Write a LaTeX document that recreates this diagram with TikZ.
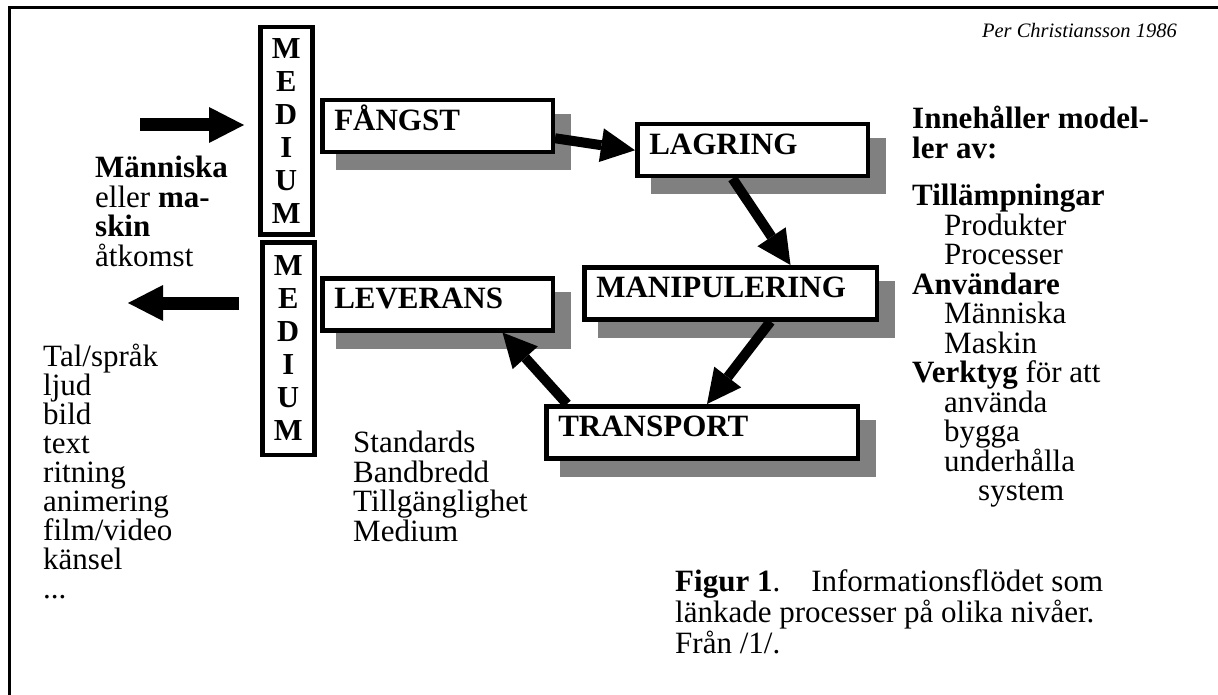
\documentclass[tikz,border=0pt]{standalone}
\usepackage{fontspec}
\setmainfont{Liberation Serif}
\usetikzlibrary{arrows.meta,shadows,calc}

\begin{document}
\begin{tikzpicture}[x=1pt,y=-1pt,
  box/.style={draw,line width=4.5pt,fill=white,anchor=north west,
    minimum height=52pt,inner xsep=12pt,align=left,text width=#1,
    text height=22pt,text depth=13.5pt,font=\fontsize{31}{31}\selectfont\bfseries,
    drop shadow={shadow xshift=16pt,shadow yshift=-16pt,fill=gray,draw=gray,
      line width=4.5pt,opacity=1}},
  medium/.style={draw,line width=4.5pt,fill=white,anchor=north west,
    minimum width=52pt,inner sep=0pt,align=center,
    font=\fontsize{30.5}{33}\selectfont\bfseries},
  flow/.style={line width=10pt,-{Triangle[length=34pt,width=34pt,line width=0pt]}},
  access/.style={line width=13pt,-{Triangle[length=35pt,width=36pt,line width=0pt]}},
  txt/.style={anchor=north west,inner sep=0pt,align=left,
    font=\fontsize{31}{29.5}\selectfont}]
\useasboundingbox (0,0) rectangle (1218,695);
\draw[line width=3pt] (9,695) -- (9,8) -- (1218,8);
\node[anchor=base east,inner sep=0pt,font=\fontsize{20.5}{20.5}\selectfont\itshape] (sign) at (1177,38) {Per Christiansson 1986};

% media columns
\node[medium,minimum height=207.5pt] (med1) at (258,25) {M\\E\\D\\I\\U\\M};
\node[medium,minimum height=212.5pt] (med2) at (260,240) {M\\E\\D\\I\\U\\M};

% process boxes
\node[box=206.5pt] (fangst) at (320,98) {FÅNGST};
\node[box=206.5pt] (lagring) at (635,122) {LAGRING};
\node[box=268.5pt] (manip) at (582,265) {MANIPULERING};
\node[box=206.5pt] (leverans) at (320,276) {LEVERANS};
\node[box=287.5pt] (transport) at (544,404) {TRANSPORT};

\draw[flow] ($(fangst.east)+(0,12)$) -- (lagring.west);
\draw[flow] ($(lagring.south)+(-20,0)$) -- ($(manip.north)+(60,0)$);
\draw[flow] ($(manip.south)+(40,0)$) -- ($(transport.north)+(5,0)$);
\draw[flow] ($(transport.north)+(-135,0)$) -- ($(leverans.south)+(65,0)$);

% access arrows
\coordinate (inL) at (140,125);
\coordinate (outR) at (128,303);
\draw[access,shorten >=14pt] (inL) -- (med1.west |- inL);
\draw[access,shorten <=21pt] (med2.west |- outR) -- (outR);

\node[txt] (who) at (95,156) {\textbf{Människa}\\eller \textbf{ma-}\\\textbf{skin}\\åtkomst};
\node[txt,font=\fontsize{31}{29}\selectfont] (forms) at (43,344) {Tal/språk\\ljud\\bild\\text\\ritning\\animering\\film/video\\känsel\\...};
\node[txt] (needs) at (353,431) {Standards\\Bandbredd\\Tillgänglighet\\Medium};
\node[txt] (models) at (912,106) {\textbf{Innehåller model-}\\\textbf{ler av:}\\[18pt]
  \textbf{Tillämpningar}\\\hspace*{32pt}Produkter\\\hspace*{32pt}Processer\\
  \textbf{Användare}\\\hspace*{32pt}Människa\\\hspace*{32pt}Maskin\\
  \textbf{Verktyg} för att\\\hspace*{32pt}använda\\\hspace*{32pt}bygga\\
  \hspace*{32pt}underhålla\\\hspace*{66pt}system};
\node[txt,font=\fontsize{31}{31}\selectfont] (caption) at (675,569) {\textbf{Figur 1}.\quad Informationsflödet som\\länkade processer på olika nivåer.\\Från /1/.};
\end{tikzpicture}
\end{document}
